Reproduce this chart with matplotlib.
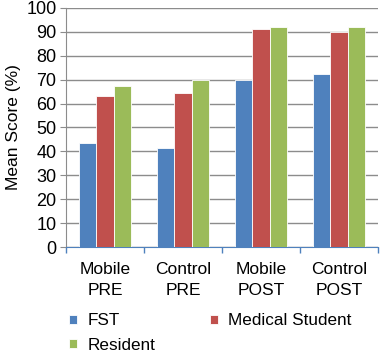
import matplotlib.pyplot as plt
import numpy as np

plt.rcParams['font.family'] = ['Liberation Sans', 'DejaVu Sans']

categories = ["Mobile\nPRE", "Control\nPRE", "Mobile\nPOST", "Control\nPOST"]
fst = [43.5, 41.5, 70.0, 72.5]
med_student = [63.0, 64.5, 91.0, 90.0]
resident = [67.5, 70.0, 92.0, 92.0]
series_names = ["FST", "Medical Student", "Resident"]
colors = ["#4F81BD", "#C0504D", "#9BBB59"]

fig = plt.figure(figsize=(3.8, 3.56), dpi=100)
ax = fig.add_axes([0.174, 0.306, 0.821, 0.672])

x = np.arange(len(categories))
w = 0.222
bars = []
for i, vals in enumerate([fst, med_student, resident]):
    b = ax.bar(x + (i - 1) * w, vals, w, color=colors[i], edgecolor="white",
               linewidth=0.6, label=series_names[i], zorder=3)
    bars.append(b)

ax.set_xlim(-0.5, len(categories) - 0.5)
ax.set_ylim(0, 100)
ax.set_yticks(np.arange(0, 101, 10))
ax.yaxis.grid(True, color="#8c8c8c", linewidth=1.0, zorder=0)
ax.set_axisbelow(True)

# category ticks sit between the groups
ax.set_xticks(np.arange(-0.5, len(categories)), minor=False)
ax.set_xticklabels([])
ax.set_xticks(x, minor=True)
ax.set_xticklabels(categories, minor=True, fontsize=12.5, linespacing=1.45)
ax.tick_params(axis="x", which="major", length=4, color="#4F81BD", width=1)
ax.tick_params(axis="x", which="minor", length=0, pad=11)
ax.tick_params(axis="y", length=4, color="#8c8c8c", labelsize=13, pad=3)

for s in ["top", "right"]:
    ax.spines[s].set_visible(False)
ax.spines["left"].set_color("#8c8c8c")
ax.spines["bottom"].set_color("#4F81BD")
ax.set_ylabel("Mean Score (%)", fontsize=12.5, labelpad=4)

handles = [bars[0], bars[2], bars[1]]
labels = [series_names[0], series_names[2], series_names[1]]
fig.legend(handles, labels, ncol=2, loc="upper left", bbox_to_anchor=(0.178, 0.125),
           frameon=False, fontsize=12.3, handlelength=0.45, handleheight=0.45,
           columnspacing=3.2, labelspacing=0.55, handletextpad=0.6,
           borderpad=0.1, borderaxespad=0)

plt.savefig("out.png", dpi=100)
